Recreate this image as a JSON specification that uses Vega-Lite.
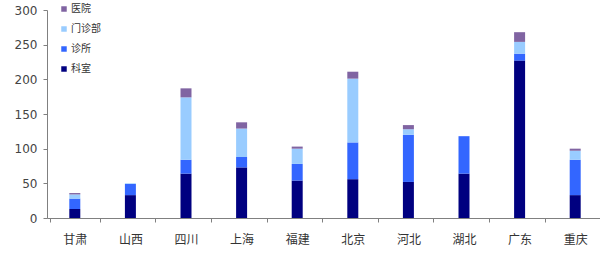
{
  "$schema": "https://vega.github.io/schema/vega-lite/v6.json",
  "autosize": "none",
  "width": 556,
  "height": 208,
  "padding": {"left": 47, "top": 10, "right": 0, "bottom": 40},
  "background": "white",
  "config": {"view": {"stroke": null}, "font": "Noto Sans CJK SC"},
  "data": {"values": [
    {"region": "甘肃", "type": "科室", "value": 13},
    {"region": "甘肃", "type": "诊所", "value": 15},
    {"region": "甘肃", "type": "门诊部", "value": 6},
    {"region": "甘肃", "type": "医院", "value": 2},
    {"region": "山西", "type": "科室", "value": 33},
    {"region": "山西", "type": "诊所", "value": 16},
    {"region": "山西", "type": "门诊部", "value": 1},
    {"region": "山西", "type": "医院", "value": 0},
    {"region": "四川", "type": "科室", "value": 64},
    {"region": "四川", "type": "诊所", "value": 20},
    {"region": "四川", "type": "门诊部", "value": 90},
    {"region": "四川", "type": "医院", "value": 13},
    {"region": "上海", "type": "科室", "value": 73},
    {"region": "上海", "type": "诊所", "value": 15},
    {"region": "上海", "type": "门诊部", "value": 41},
    {"region": "上海", "type": "医院", "value": 9},
    {"region": "福建", "type": "科室", "value": 54},
    {"region": "福建", "type": "诊所", "value": 24},
    {"region": "福建", "type": "门诊部", "value": 22},
    {"region": "福建", "type": "医院", "value": 3},
    {"region": "北京", "type": "科室", "value": 56},
    {"region": "北京", "type": "诊所", "value": 53},
    {"region": "北京", "type": "门诊部", "value": 92},
    {"region": "北京", "type": "医院", "value": 10},
    {"region": "河北", "type": "科室", "value": 52},
    {"region": "河北", "type": "诊所", "value": 68},
    {"region": "河北", "type": "门诊部", "value": 8},
    {"region": "河北", "type": "医院", "value": 6},
    {"region": "湖北", "type": "科室", "value": 64},
    {"region": "湖北", "type": "诊所", "value": 54},
    {"region": "湖北", "type": "门诊部", "value": 0},
    {"region": "湖北", "type": "医院", "value": 0},
    {"region": "广东", "type": "科室", "value": 227},
    {"region": "广东", "type": "诊所", "value": 10},
    {"region": "广东", "type": "门诊部", "value": 17},
    {"region": "广东", "type": "医院", "value": 14},
    {"region": "重庆", "type": "科室", "value": 33},
    {"region": "重庆", "type": "诊所", "value": 51},
    {"region": "重庆", "type": "门诊部", "value": 13},
    {"region": "重庆", "type": "医院", "value": 3}
  ]},
  "transform": [
    {"calculate": "indexof(['科室', '诊所', '门诊部', '医院'], datum.type)", "as": "stackOrder"}
  ],
  "mark": {"type": "bar", "width": 11},
  "encoding": {
    "x": {
      "field": "region", "type": "nominal", "sort": null,
      "axis": {
        "title": null, "labelAngle": 0, "labelFontSize": 12, "labelColor": "#333333",
        "labelPadding": 12, "tickBand": "extent", "tickSize": 4, "tickColor": "#808080",
        "domainColor": "#808080"
      }
    },
    "y": {
      "field": "value", "type": "quantitative", "stack": "zero",
      "scale": {"domain": [0, 300]},
      "axis": {
        "title": null, "values": [0, 50, 100, 150, 200, 250, 300], "grid": false,
        "labelFontSize": 12, "labelColor": "#444444", "labelFont": "DejaVu Sans",
        "tickSize": 4, "tickColor": "#808080", "domainColor": "#808080", "labelPadding": 6
      }
    },
    "order": {"field": "stackOrder", "type": "quantitative", "sort": "ascending"},
    "color": {
      "field": "type", "type": "nominal",
      "scale": {"domain": ["科室", "诊所", "门诊部", "医院"], "range": ["#000080", "#3366FF", "#99CCFF", "#8064A2"]},
      "legend": {
        "title": null, "orient": "none", "legendX": 12, "legendY": -6,
        "values": ["医院", "门诊部", "诊所", "科室"],
        "symbolType": "square", "symbolSize": 30, "symbolStrokeWidth": 0,
        "labelFontSize": 10, "labelColor": "#333333", "rowPadding": 10, "labelOffset": 2
      }
    }
  }
}
